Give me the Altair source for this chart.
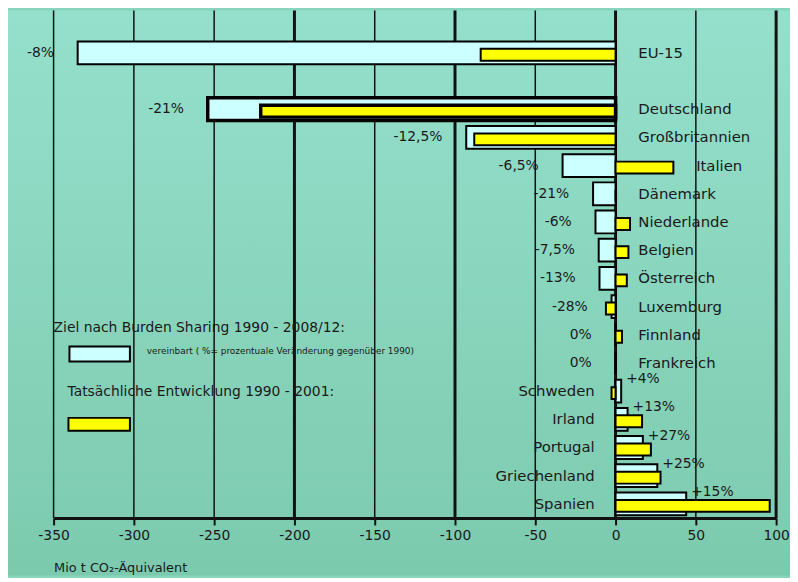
import altair as alt
import pandas as pd

# ---- data ----
countries = ["EU-15", "Deutschland", "Großbritannien", "Italien", "Dänemark",
             "Niederlande", "Belgien", "Österreich", "Luxemburg", "Finnland",
             "Frankreich", "Schweden", "Irland", "Portugal", "Griechenland", "Spanien"]
ziel = [-335, -254, -93, -33, -14, -12.5, -10.5, -10, -2.5, 0, 0, 3.5, 7.5, 17, 26, 44]
ist = [-84, -221, -88, 36, 0, 9, 8, 7, -6, 4, 0, -2.5, 16.5, 22, 28, 96]
pct = ["-8%", "-21%", "-12,5%", "-6,5%", "-21%", "-6%", "-7,5%", "-13%", "-28%",
       "0%", "0%", "+4%", "+13%", "+27%", "+25%", "+15%"]
x_ticks = [-350, -300, -250, -200, -150, -100, -50, 0, 50, 100]
major_ticks = [-200, -100, 0, 100]
row_order = ["_top", "EU-15", "_gap"] + countries[1:]

legend_title_1 = "Ziel nach Burden Sharing 1990 - 2008/12:"
legend_note_1 = "vereinbart ( %= prozentuale Veränderung gegenüber 1990)"
legend_title_2 = "Tatsächliche Entwicklung 1990 - 2001:"
x_title = "Mio t CO₂-Äquivalent"

df = pd.DataFrame({"land": countries, "ziel": ziel, "ist": ist, "pct": pct})
grid_df = pd.DataFrame({"v": x_ticks})

W, H = 729, 512
FONT = "DejaVu Sans"
TXT = "#1a1a1a"
CYAN = "#CCFFFF"
YELLOW = "#FFFF00"

xscale = alt.Scale(domain=[-350, 100], nice=False, zero=False)
yscale = alt.Scale(domain=row_order, paddingInner=0, paddingOuter=0)
Y = alt.Y("land:N", scale=yscale, axis=None)

x_axis = alt.Axis(values=x_ticks, grid=False, domain=True, domainColor="#111",
                  domainWidth=3, tickColor="#111", tickWidth=2, tickSize=7,
                  labelFont=FONT, labelFontSize=14, labelColor=TXT, labelPadding=4,
                  labelExpr="'' + datum.value", labelFlush=False, zindex=2,
                  title=x_title, titleFont=FONT, titleFontSize=13,
                  titleFontWeight="normal", titleColor=TXT, titleX=0, titleY=50,
                  titleAlign="left", titleBaseline="middle", titleAnchor="start")


def X(field):
    return alt.X(field, scale=xscale, axis=x_axis)


one = alt.Data(values=[{}])

background = alt.Chart(one).mark_rect(
    color=alt.Gradient(gradient="linear",
                       stops=[alt.GradientStop(color="#95E0CC", offset=0),
                              alt.GradientStop(color="#7CCAAE", offset=1)],
                       x1=0, x2=0, y1=0, y2=1)
).encode(x=alt.value(-46), x2=alt.value(W + 14), y=alt.value(0), y2=alt.value(H + 58))

grid = alt.Chart(grid_df).mark_rule(color="#111").encode(
    x=X("v:Q"),
    strokeWidth=alt.condition(
        "indexof(" + str(major_ticks) + ", datum.v) >= 0", alt.value(3), alt.value(1.5))
)

bar_sw = alt.condition("datum.land == 'Deutschland'", alt.value(3.5), alt.value(2))

ziel_bars = alt.Chart(df).mark_bar(size=23, fill=CYAN, stroke="#000").encode(
    x=X("ziel:Q"), x2=alt.datum(0), y=Y, strokeWidth=bar_sw)

ist_bars = alt.Chart(df).mark_bar(size=12, yOffset=2, fill=YELLOW, stroke="#000").encode(
    x=X("ist:Q"), x2=alt.datum(0), y=Y, strokeWidth=bar_sw)

pct_neg = alt.Chart(df).transform_filter("datum.ziel <= 0").mark_text(
    align="right", baseline="middle", dx=-24, font=FONT, fontSize=14, color=TXT
).encode(x=X("ziel:Q"), y=Y, text="pct:N")

pct_pos = alt.Chart(df).transform_filter("datum.ziel > 0").mark_text(
    align="left", baseline="middle", dx=5, dy=-12, font=FONT, fontSize=14, color=TXT
).encode(x=X("ziel:Q"), y=Y, text="pct:N")

name_right = alt.Chart(df).transform_filter("datum.ziel <= 0").transform_calculate(
    anchor="datum.ist > 20 ? datum.ist : 0"
).mark_text(align="left", baseline="middle", dx=23, font=FONT, fontSize=15, color=TXT
).encode(x=X("anchor:Q"), y=Y, text="land:N")

name_left = alt.Chart(df).transform_filter("datum.ziel > 0").transform_calculate(
    anchor="0"
).mark_text(align="right", baseline="middle", dx=-21, font=FONT, fontSize=15, color=TXT
).encode(x=X("anchor:Q"), y=Y, text="land:N")

# legend (drawn in pixel space)
leg_t1 = alt.Chart(one).mark_text(align="left", baseline="middle", font=FONT,
                                  fontSize=14, color=TXT, text=legend_title_1).encode(
    x=alt.value(0), y=alt.value(320))
leg_r1 = alt.Chart(one).mark_rect(fill=CYAN, stroke="#000", strokeWidth=2).encode(
    x=alt.value(16), x2=alt.value(77), y=alt.value(339), y2=alt.value(354))
leg_n1 = alt.Chart(one).mark_text(align="left", baseline="middle", font=FONT,
                                  fontSize=9, color=TXT, text=legend_note_1).encode(
    x=alt.value(94), y=alt.value(344))
leg_t2 = alt.Chart(one).mark_text(align="left", baseline="middle", font=FONT,
                                  fontSize=14, color=TXT, text=legend_title_2).encode(
    x=alt.value(14), y=alt.value(385))
leg_r2 = alt.Chart(one).mark_rect(fill=YELLOW, stroke="#000", strokeWidth=2).encode(
    x=alt.value(15), x2=alt.value(77), y=alt.value(411), y2=alt.value(424))

chart = alt.layer(
    background, grid, ziel_bars, ist_bars, pct_neg, pct_pos, name_right, name_left,
    leg_t1, leg_r1, leg_n1, leg_t2, leg_r2
).properties(
    width=W, height=H,
    autosize=alt.AutoSizeParams(type="none"),
    padding={"left": 46, "top": 0, "right": 14, "bottom": 58},
    background="#88D5BD",
).configure_view(stroke=None)

chart.save("out.html", embed_options={"renderer": "svg", "actions": False})
